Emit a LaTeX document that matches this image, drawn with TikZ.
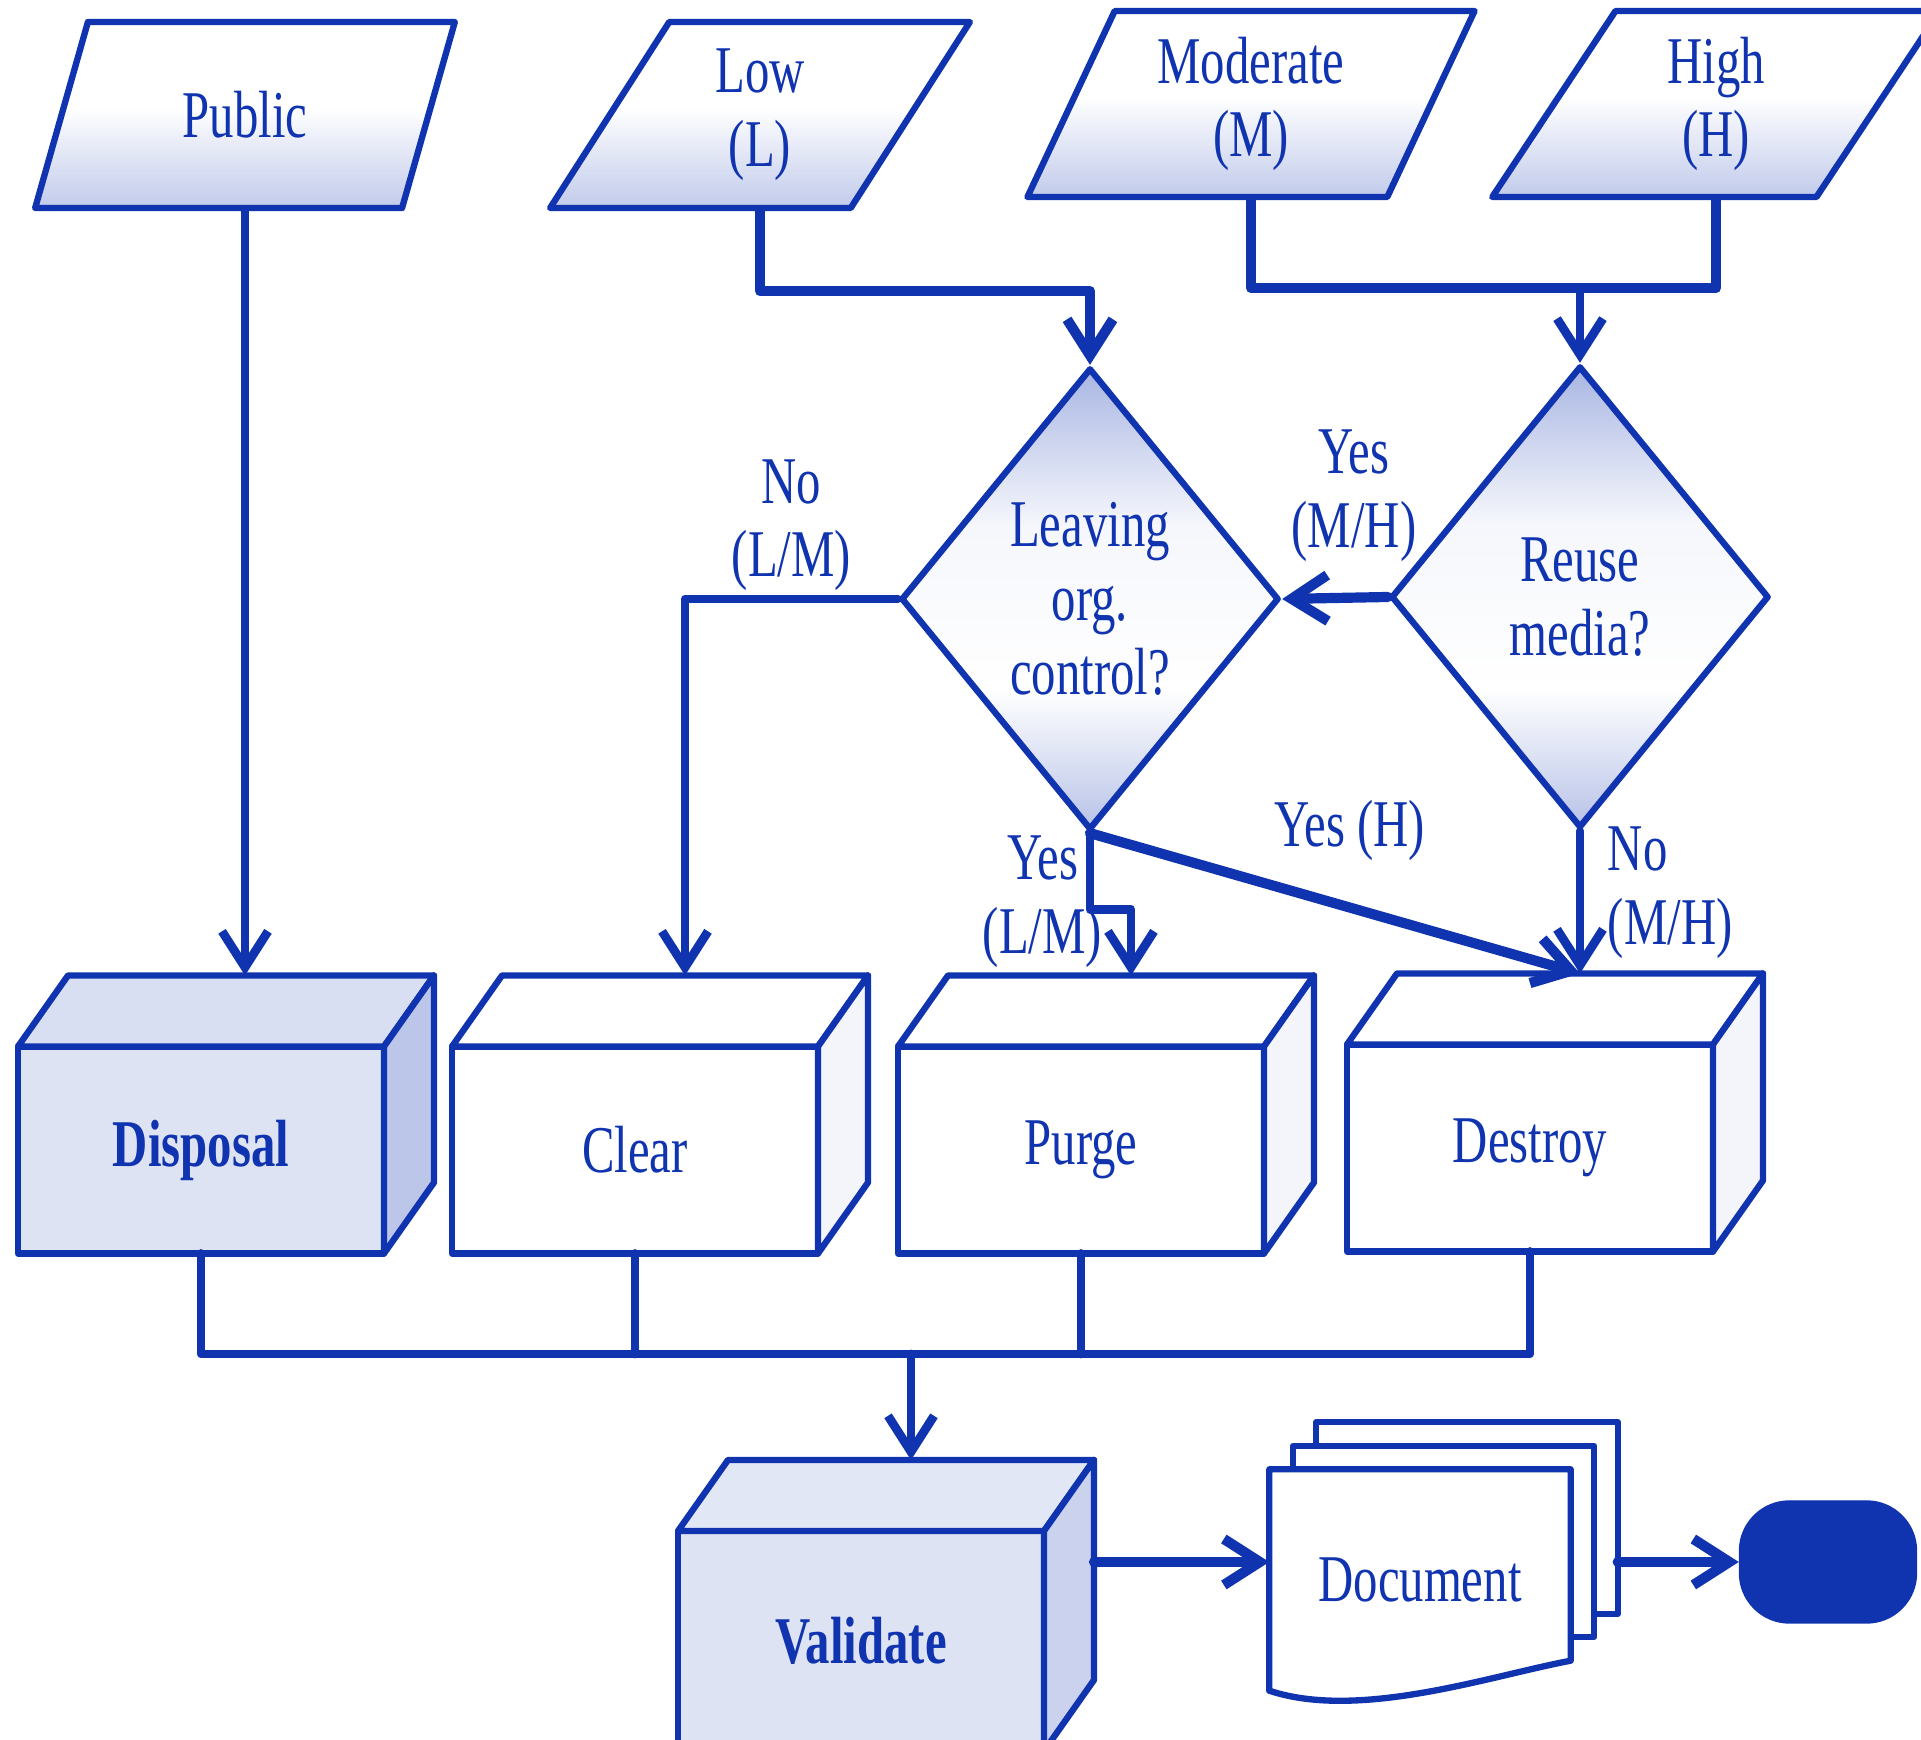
\documentclass[tikz,border=0pt]{standalone}
\usepackage{fontspec}
\setmainfont[FakeStretch=0.73]{Liberation Serif}
\usetikzlibrary{arrows.meta,shapes.geometric,calc}
\definecolor{ink}{HTML}{1034B0}
% shaded corners of the decisions, pale foot of the levels
\pgfdeclareverticalshading{cornershade}{100bp}{color(0bp)=(ink!30); color(25bp)=(ink!30);
  color(40bp)=(white); color(58bp)=(ink!4); color(75bp)=(ink!36); color(100bp)=(ink!36)}
\pgfdeclareverticalshading{footshade}{100bp}{color(0bp)=(ink!26); color(25bp)=(ink!26);
  color(52bp)=(white); color(100bp)=(white)}
\tikzset{
  every picture/.style={
    line join=round,
    line cap=round,
    >={Straight Barb[length=3.6mm,width=4.6mm]},
  },
  % input levels, decisions and the 3-d action boxes
  level/.style={trapezium, trapezium left angle=66, trapezium right angle=114,
    trapezium stretches=true, draw=ink, line width=1.8pt, text=ink,
    shade, shading=footshade, minimum height=1.86cm, inner sep=0pt, align=center},
  decision/.style={diamond, draw=ink, line width=1.8pt, text=ink,
    minimum width=3.78cm, minimum height=4.62cm, inner sep=0pt, align=center,
    shade, shading=cornershade},
  cube/.style={rectangle, draw=ink, line width=1.8pt, text=ink, fill=white,
    minimum width=3.66cm, minimum height=2.07cm, outer sep=0pt},
  tinted/.style={fill=ink!14},
  bold/.style={font=\fontsize{19}{21}\selectfont\bfseries},
  face/.style={draw=ink, line width=1.8pt},
  link/.style={draw=ink, line width=2.5pt},
  heavy/.style={line width=2.9pt},
  lbl/.style={text=ink, align=center, inner sep=1pt},
}

\begin{document}
\begin{tikzpicture}[font=\fontsize{19}{21}\selectfont]
    \useasboundingbox (0,0) rectangle (19.21,17.40);
    \clip (0,0) rectangle (19.21,17.40);

    % Levels
    \node[level, minimum width=4.2cm] (public) at (2.45,16.25) {Public};
    \node[level, minimum width=4.2cm] (low) at (7.60,16.25) {Low\\(L)};
    \node[level, minimum width=4.5cm] (moderate) at (12.51,16.36) {Moderate\\(M)};
    \node[level, minimum width=4.5cm] (high) at (17.16,16.36) {High\\(H)};

    % Decisions
    \node[decision] (leave) at (10.90,11.41) {Leaving\\org.\\control?};
    \node[decision] (reuse) at (15.80,11.43) {Reuse\\media?};

    % Actions
    \node[cube, tinted, bold] (disposal) at (2.01,5.90) {Disposal};
    \node[cube] (clear) at (6.35,5.90) {Clear};
    \node[cube] (purge) at (10.81,5.90) {Purge};
    \node[cube] (destroy) at (15.30,5.92) {Destroy};
    \node[cube, tinted, bold, minimum height=2.2cm] (validate) at (8.61,0.99) {Validate};
    \foreach \b/\ftop/\fside in {disposal/ink!16/ink!28, clear/white/ink!5,
        purge/white/ink!5, destroy/white/ink!5, validate/ink!12/ink!22} {
        \filldraw[face, fill=\ftop] (\b.north west) -- ++(0.5,0.71)
            -- ($(\b.north east)+(0.5,0.71)$) -- (\b.north east) -- cycle;
        \filldraw[face, fill=\fside] (\b.north east) -- ++(0.5,0.71)
            -- ($(\b.south east)+(0.5,0.71)$) -- (\b.south east) -- cycle;
        \coordinate (\b-top) at ($(\b.north)+(0.5,0.71)$);
    }
    \coordinate (validate-side) at ($(validate.east)+(0.5,0.71)$);

    % Document stack
    \node[minimum width=3.0cm, minimum height=2.2cm, text=ink] (doc) at (14.20,1.60) {};
    \foreach \s in {0.47,0.235} {
        \filldraw[face, fill=white] ($(doc.north west)+(\s,\s)$) rectangle ($(doc.south east)+(\s,0.3+\s)$);
    }
    \filldraw[face, fill=white] (doc.north west) -- (doc.north east) -- ($(doc.south east)+(0,0.3)$)
        .. controls +(-0.8,-0.15) and +(0.9,-0.3) .. (doc.south west) -- cycle;
    \node[text=ink] at (doc) {Document};
    \coordinate (doc-back) at ($(doc.east)+(0.47,0)$);

    % End
    \node[fill=ink, draw=ink, rounded corners=0.5cm, minimum width=1.77cm,
        minimum height=1.22cm] (term) at (18.28,1.78) {};

    % Connectors
    \draw[link, ->] (public.center |- public.bottom side) -- (public.center |- disposal-top);
    \draw[link, heavy, ->] (low.center |- low.bottom side) -- ++(0,-0.8) -| (leave.north);
    \draw[link, heavy] (moderate.center |- moderate.bottom side) -- ++(0,-0.88) coordinate (mh)
        -| (high.center |- high.bottom side);
    \draw[link, ->] (mh -| reuse.north) -- (reuse.north);
    \draw[link, heavy, ->] (reuse.west) -- (leave.east)
        node[lbl, pos=0.32, above=0.27cm] {Yes\\(M/H)};
    \draw[link, ->] (leave.west) -| (clear-top)
        node[lbl, pos=0.25, above=0pt] {No\\(L/M)};
    \draw[link, ->] (leave.south) -- ++(0,-0.76)
        node[lbl, pos=0.9, left=-0.2cm] {Yes\\(L/M)} -| (purge-top);
    \draw[link, heavy, ->] (leave.south) -- (destroy-top)
        node[lbl, pos=0.53, above=0.38cm] {Yes (H)};
    \draw[link, ->] (reuse.south) -- (destroy-top)
        node[lbl, pos=0.43, right=0.2cm, align=left] {No\\(M/H)};

    % Collect into validation
    \coordinate (bus) at (0,3.86);
    \draw[link] (disposal.south) |- (bus -| destroy.south) -- (destroy.south);
    \foreach \b in {clear,purge} {
        \draw[link] (\b.south) -- (\b.south |- bus);
    }
    \draw[link, ->] (validate-top |- bus) -- (validate-top);
    \draw[link, heavy, ->] (validate-side |- term.west) -- (doc.west |- term.west);
    \draw[link, heavy, ->] (doc-back |- term.west) -- (term.west);
\end{tikzpicture}
\end{document}
